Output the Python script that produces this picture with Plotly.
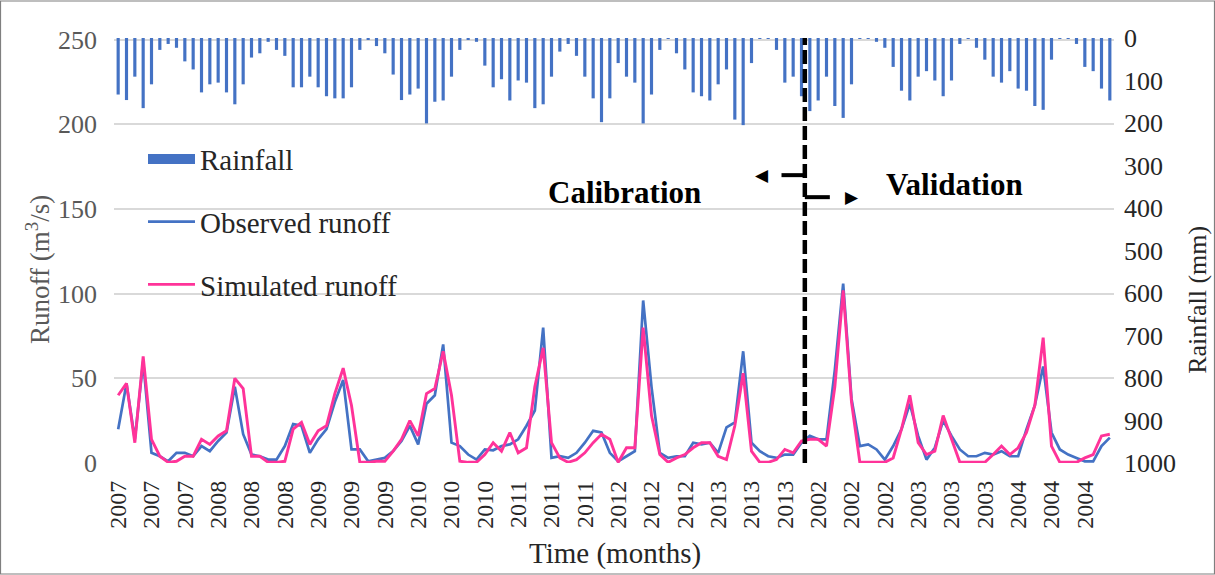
import plotly.graph_objects as go

# ---------------- data ----------------
years_calibration = [2007, 2008, 2009, 2010, 2011, 2012, 2013]
years_validation = [2002, 2003, 2004]
month_years = [y for y in years_calibration + years_validation for _ in range(12)]
month_index = list(range(len(month_years)))
tick_step = 4

rainfall_mm = [
    133, 146, 91, 165, 109, 28, 14, 23, 55, 74, 128, 109,
    105, 128, 156, 109, 46, 36, 9, 28, 42, 116, 116, 91,
    116, 137, 142, 142, 116, 28, 4, 19, 36, 86, 146, 133,
    119, 201, 150, 147, 91, 28, 4, 9, 65, 116, 97, 147,
    100, 105, 165, 156, 91, 32, 14, 42, 91, 142, 198, 142,
    59, 91, 105, 201, 133, 28, 2, 36, 74, 128, 137, 147,
    109, 74, 192, 205, 59, 2, 2, 28, 105, 91, 137, 172,
    147, 91, 160, 188, 109, 2, 2, 9, 23, 68, 124, 147,
    91, 78, 100, 137, 100, 14, 2, 23, 51, 91, 105, 78,
    119, 124, 160, 169, 51, 2, 2, 14, 68, 78, 119, 147,
]

observed_runoff = [
    20, 47, 14, 60, 6, 4, 1, 6, 6, 4, 10, 7,
    13, 18, 45, 17, 5, 4, 2, 2, 10, 23, 22, 6,
    14, 20, 36, 49, 8, 8, 1, 2, 3, 7, 13, 22,
    11, 35, 40, 70, 12, 10, 5, 2, 8, 7.5, 10, 11,
    14, 22, 31, 80, 3, 4, 3, 6, 12, 19, 18, 6,
    1, 4, 7, 96, 45, 6, 3, 4, 4, 12, 11, 12,
    6, 21, 24, 66, 12, 7, 4, 3, 5, 5, 12, 16,
    14, 14, 55, 106, 38, 10, 11, 8, 2, 10, 20, 35,
    16, 2, 9, 25, 16, 8, 4, 4, 6, 5, 7, 4,
    4, 20, 34, 57, 18, 8, 5, 3, 1, 1, 10, 15,
]

simulated_runoff = [
    40, 47, 12, 63, 14, 4, 0.4, 1, 4, 4, 14, 11,
    16, 19, 50, 44, 4, 4, 0.4, 0.4, 1, 20, 24, 11,
    19, 22, 41, 56, 34, 0.4, 0.4, 1, 1, 7, 14, 25,
    16, 41, 44, 66, 40, 1, 0.4, 0.4, 5, 12, 7, 18,
    6, 9, 45, 68, 12, 3, 0.4, 2, 6, 12, 17, 14,
    0.4, 9, 9, 80, 28, 5, 0.4, 3, 5, 9, 12, 12,
    4, 2, 22, 53, 7, 0.4, 0.4, 2, 8, 6, 13, 14,
    14, 10, 45, 102, 36, 0.4, 0.4, 0.4, 0.4, 3, 20, 40,
    12, 5, 7, 28, 14, 0.4, 0.4, 0.4, 0.4, 5, 10, 5,
    9, 18, 34, 74, 10, 0.4, 0.4, 0.4, 3, 5, 16, 17,
]

runoff_ticks = [0, 50, 100, 150, 200, 250]
rain_ticks = [0, 100, 200, 300, 400, 500, 600, 700, 800, 900, 1000]
split_x = 82.4  # position of the calibration/validation divider

tick_vals = month_index[::tick_step]
tick_text = [str(month_years[i]) for i in tick_vals]

# ---------------- styling ----------------
SERIF = "Liberation Serif"
BLUE = "#4472C4"
PINK = "#FF3399"

fig = go.Figure()

fig.add_trace(go.Bar(
    x=month_index, y=rainfall_mm, yaxis="y2", marker_color=BLUE,
    marker_line_width=0, name="Rainfall", showlegend=False,
))
# legend entry for rainfall (thick bar symbol)
fig.add_trace(go.Scatter(
    x=[None], y=[None], mode="lines", line=dict(color=BLUE, width=15),
    name="Rainfall", legendgroup="a",
))
fig.add_trace(go.Scatter(
    x=month_index, y=observed_runoff, mode="lines",
    line=dict(color=BLUE, width=2.7), name="Observed runoff", legendgroup="b",
))
fig.add_trace(go.Scatter(
    x=month_index, y=simulated_runoff, mode="lines",
    line=dict(color=PINK, width=2.9), name="Simulated runoff", legendgroup="c",
))

fig.update_layout(
    width=1215, height=575, autosize=False,
    margin=dict(l=114, r=101, t=38, b=112),
    paper_bgcolor="white", plot_bgcolor="white",
    font=dict(family=SERIF, size=26, color="#262626"),
    bargap=0.62,
    showlegend=True,
    legend=dict(
        x=0.029, y=0.775, xanchor="left", yanchor="top",
        bgcolor="rgba(0,0,0,0)", font=dict(family=SERIF, size=29, color="#262626"),
        tracegroupgap=22, traceorder="grouped", itemwidth=47,
    ),
    xaxis=dict(
        range=[-0.5, len(month_index) - 0.5], tickmode="array",
        tickvals=tick_vals, ticktext=tick_text, tickangle=-90,
        tickfont=dict(family=SERIF, size=24, color="#262626"),
        showgrid=False, zeroline=False, showline=False, ticks="",
        ticklabelstandoff=12,
    ),
    yaxis=dict(
        range=[0, 251], tickvals=runoff_ticks, showgrid=True,
        gridcolor="#D9D9D9", gridwidth=1.5, zeroline=False, showline=False,
        ticks="", tickfont=dict(family=SERIF, size=26, color="#595959"),
        ticklabelstandoff=16,
    ),
    yaxis2=dict(
        range=[1000, 0], tickvals=rain_ticks, overlaying="y", side="right",
        showgrid=False, zeroline=False, showline=False, ticks="",
        tickfont=dict(family=SERIF, size=26, color="#262626"),
        ticklabelstandoff=9,
    ),
)

# divider and arrows
fig.add_shape(type="line", xref="x", yref="paper", x0=split_x, x1=split_x,
              y0=0, y1=1, line=dict(color="black", width=4.5, dash="14px,5px"))
fig.add_shape(type="line", xref="x", yref="y", x0=79.6, x1=split_x, y0=170, y1=170,
              line=dict(color="black", width=4))
fig.add_shape(type="line", xref="x", yref="y", x0=split_x, x1=85.4, y0=157, y1=157,
              line=dict(color="black", width=4))
fig.add_annotation(x=77.2, y=170, xref="x", yref="y", text="◀", showarrow=False,
                   xanchor="center", yanchor="middle",
                   font=dict(family="DejaVu Sans", size=17, color="black"))
fig.add_annotation(x=88.0, y=157, xref="x", yref="y", text="▶", showarrow=False,
                   xanchor="center", yanchor="middle",
                   font=dict(family="DejaVu Sans", size=17, color="black"))

fig.add_annotation(x=60.8, y=159.5, xref="x", yref="y", text="<b>Calibration</b>",
                   showarrow=False, xanchor="center", yanchor="middle",
                   font=dict(family=SERIF, size=31, color="black"))
fig.add_annotation(x=100.3, y=164.2, xref="x", yref="y", text="<b>Validation</b>",
                   showarrow=False, xanchor="center", yanchor="middle",
                   font=dict(family=SERIF, size=31, color="black"))

# axis titles
fig.add_annotation(x=0.501, y=-0.212, xref="paper", yref="paper", text="Time (months)",
                   showarrow=False, xanchor="center", yanchor="middle",
                   font=dict(family=SERIF, size=29, color="#262626"))
fig.add_annotation(x=-0.076, y=0.454, xref="paper", yref="paper",
                   text="Runoff (m<sup>3</sup>/s)", textangle=-90, showarrow=False,
                   xanchor="center", yanchor="middle",
                   font=dict(family=SERIF, size=27, color="#595959"))
fig.add_annotation(x=1.084, y=0.384, xref="paper", yref="paper", text="Rainfall (mm)",
                   textangle=-90, showarrow=False, xanchor="center", yanchor="middle",
                   font=dict(family=SERIF, size=26, color="#262626"))

# outer frame
fig.add_shape(type="rect", xref="paper", yref="paper",
              x0=-0.1135, x1=1.1005, y0=-0.2612, y1=1.0871,
              line=dict(color="#7F7F7F", width=1.2))

fig.write_html("out.html")
